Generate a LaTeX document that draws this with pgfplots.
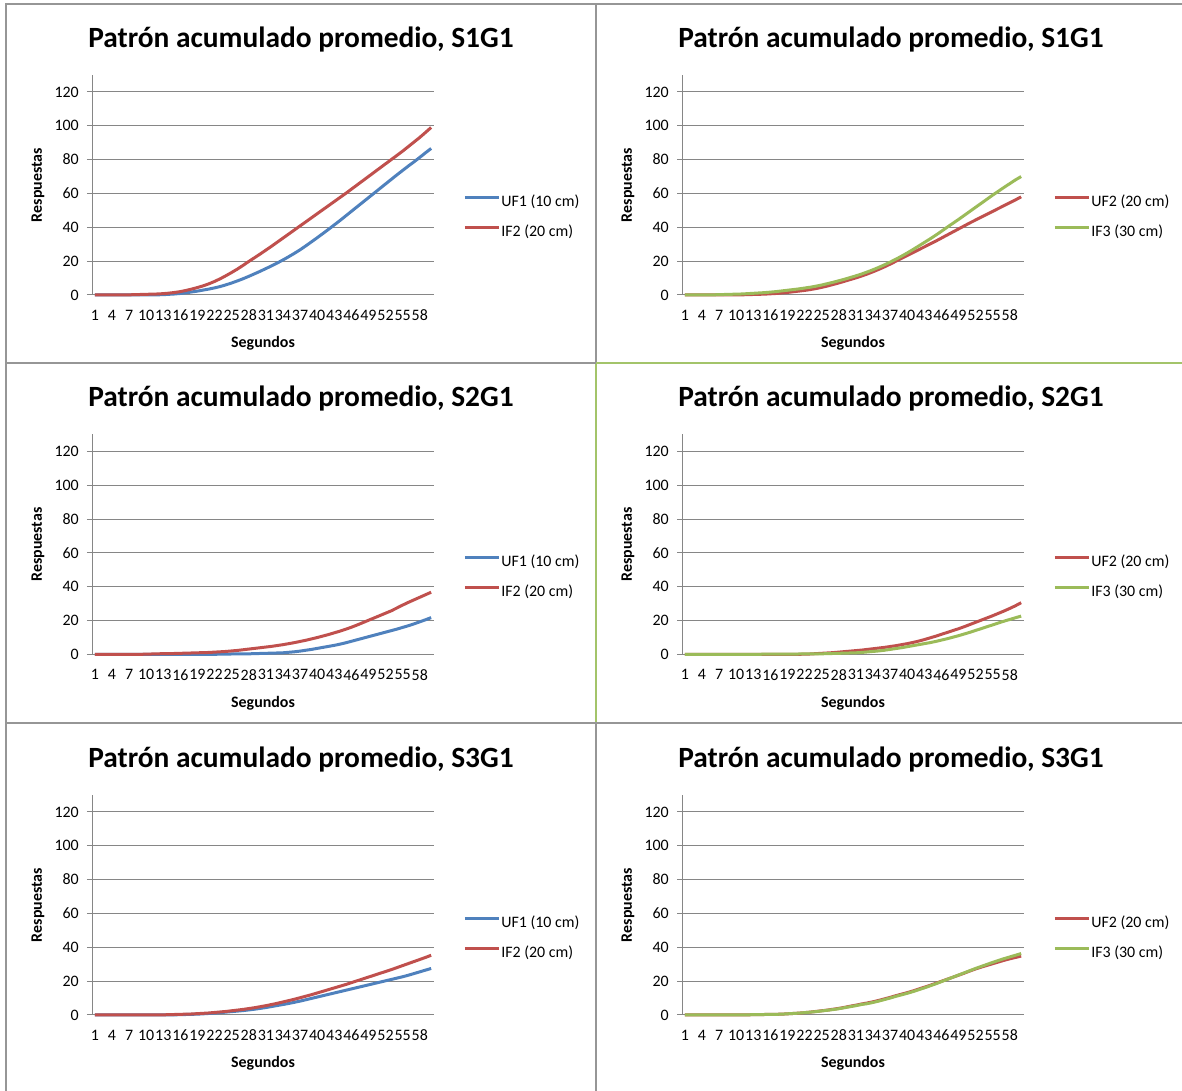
\documentclass[border=0pt]{standalone}
\usepackage{fontspec}
\setmainfont{Carlito}
\usepackage{pgfplots}
\usepackage{pgfplotstable}
\pgfplotsset{compat=1.18}
\newcommand\fs[1]{\fontsize{#1}{#1}\selectfont}
\definecolor{exblue}{HTML}{4F81BD}
\definecolor{exred}{HTML}{C0504D}
\definecolor{exgreen}{HTML}{9BBB59}
\definecolor{gridgrey}{HTML}{868686}
\definecolor{framegrey}{HTML}{969696}
\definecolor{framegreen}{HTML}{A3C46A}

\pgfplotstableread[row sep=\\]{
x a b\\
1 0 0\\ 2 0 0\\ 3 0 0\\ 4 0 0\\ 5 0 0\\ 6 0 0\\ 7 0 0.1\\ 8 0 0.2\\ 9 0 0.3\\ 10 0 0.4\\
11 0 0.5\\ 12 0.1 0.6\\ 13 0.2 0.8\\ 14 0.4 1.1\\ 15 0.6 1.5\\ 16 0.9 2\\ 17 1.3 2.7\\ 18 1.8 3.5\\ 19 2.3 4.4\\ 20 2.9 5.4\\
21 3.5 6.6\\ 22 4.2 8\\ 23 5 9.6\\ 24 6 11.4\\ 25 7.1 13.3\\ 26 8.3 15.3\\ 27 9.6 17.5\\ 28 11 19.8\\ 29 12.5 22\\ 30 14 24.2\\
31 15.6 26.5\\ 32 17.2 28.8\\ 33 18.9 31.2\\ 34 20.7 33.6\\ 35 22.6 36\\ 36 24.6 38.4\\ 37 26.7 40.8\\ 38 29 43.2\\ 39 31.4 45.6\\ 40 33.8 48\\
41 36.3 50.4\\ 42 38.8 52.8\\ 43 41.4 55.2\\ 44 44 57.6\\ 45 46.7 60\\ 46 49.4 62.5\\ 47 52.1 65\\ 48 54.8 67.5\\ 49 57.5 70\\ 50 60.2 72.5\\
51 62.9 75\\ 52 65.6 77.5\\ 53 68.3 80\\ 54 71 82.5\\ 55 73.6 85\\ 56 76.2 87.7\\ 57 78.7 90.4\\ 58 81.3 93.1\\ 59 84 96\\ 60 86.6 99\\
}\tA

\pgfplotstableread[row sep=\\]{
x a b\\
1 0 0\\ 2 0 0\\ 3 0 0\\ 4 0 0\\ 5 0 0\\ 6 0 0.1\\ 7 0 0.2\\ 8 0 0.3\\ 9 0 0.4\\ 10 0 0.5\\
11 0.1 0.6\\ 12 0.2 0.8\\ 13 0.3 1\\ 14 0.4 1.2\\ 15 0.5 1.4\\ 16 0.7 1.7\\ 17 0.9 2\\ 18 1.2 2.4\\ 19 1.5 2.8\\ 20 1.9 3.2\\
21 2.3 3.6\\ 22 2.7 4.1\\ 23 3.2 4.6\\ 24 3.8 5.2\\ 25 4.5 5.9\\ 26 5.3 6.7\\ 27 6.2 7.5\\ 28 7.1 8.4\\ 29 8.1 9.3\\ 30 9.1 10.3\\
31 10.1 11.3\\ 32 11.2 12.4\\ 33 12.4 13.6\\ 34 13.7 14.9\\ 35 15.1 16.3\\ 36 16.6 17.8\\ 37 18.2 19.4\\ 38 19.9 21.1\\ 39 21.6 22.9\\ 40 23.3 24.8\\
41 25 26.8\\ 42 26.7 28.9\\ 43 28.4 31\\ 44 30.1 33.1\\ 45 31.8 35.3\\ 46 33.6 37.6\\ 47 35.4 40\\ 48 37.2 42.3\\ 49 39 44.6\\ 50 40.8 47\\
51 42.6 49.4\\ 52 44.3 51.8\\ 53 46 54.2\\ 54 47.7 56.6\\ 55 49.4 59\\ 56 51.1 61.3\\ 57 52.8 63.6\\ 58 54.5 65.8\\ 59 56.2 68\\ 60 58 70\\
}\tB

\pgfplotstableread[row sep=\\]{
x a b\\
1 0 0\\ 2 0 0\\ 3 0 0\\ 4 0 0\\ 5 0 0\\ 6 0 0\\ 7 0 0\\ 8 0 0\\ 9 0 0.1\\ 10 0 0.2\\
11 0 0.3\\ 12 0 0.4\\ 13 0 0.5\\ 14 0 0.5\\ 15 0 0.6\\ 16 0 0.7\\ 17 0 0.8\\ 18 0 0.9\\ 19 0 1\\ 20 0 1.1\\
21 0.1 1.2\\ 22 0.1 1.4\\ 23 0.2 1.6\\ 24 0.2 1.8\\ 25 0.3 2.1\\ 26 0.3 2.4\\ 27 0.4 2.8\\ 28 0.4 3.2\\ 29 0.5 3.6\\ 30 0.6 4\\
31 0.7 4.4\\ 32 0.8 4.8\\ 33 0.9 5.3\\ 34 1 5.8\\ 35 1.3 6.4\\ 36 1.6 7\\ 37 2 7.7\\ 38 2.5 8.4\\ 39 3 9.2\\ 40 3.6 10\\
41 4.2 10.9\\ 42 4.8 11.8\\ 43 5.4 12.8\\ 44 6.1 13.8\\ 45 6.9 14.9\\ 46 7.8 16.1\\ 47 8.7 17.4\\ 48 9.6 18.8\\ 49 10.5 20.2\\ 50 11.4 21.6\\
51 12.3 23\\ 52 13.2 24.4\\ 53 14.1 25.8\\ 54 15 27.5\\ 55 16 29.2\\ 56 17 30.8\\ 57 18.1 32.3\\ 58 19.3 33.8\\ 59 20.5 35.3\\ 60 21.8 36.8\\
}\tC

\pgfplotstableread[row sep=\\]{
x a b\\
1 0 0\\ 2 0 0\\ 3 0 0\\ 4 0 0\\ 5 0 0\\ 6 0 0\\ 7 0 0\\ 8 0 0\\ 9 0 0.1\\ 10 0 0.1\\
11 0 0.1\\ 12 0 0.1\\ 13 0 0.1\\ 14 0 0.1\\ 15 0 0.2\\ 16 0 0.2\\ 17 0 0.2\\ 18 0 0.2\\ 19 0 0.2\\ 20 0 0.2\\
21 0.1 0.3\\ 22 0.2 0.3\\ 23 0.3 0.3\\ 24 0.5 0.4\\ 25 0.7 0.4\\ 26 0.9 0.5\\ 27 1.1 0.6\\ 28 1.4 0.7\\ 29 1.7 0.8\\ 30 2 0.9\\
31 2.3 1\\ 32 2.6 1.2\\ 33 3 1.5\\ 34 3.4 1.8\\ 35 3.8 2.1\\ 36 4.2 2.5\\ 37 4.7 3\\ 38 5.2 3.5\\ 39 5.8 4\\ 40 6.4 4.6\\
41 7.1 5.2\\ 42 7.9 5.8\\ 43 8.8 6.4\\ 44 9.8 7\\ 45 10.8 7.7\\ 46 11.9 8.5\\ 47 13 9.3\\ 48 14.1 10.2\\ 49 15.2 11.1\\ 50 16.4 12.1\\
51 17.7 13.1\\ 52 19 14.2\\ 53 20.3 15.3\\ 54 21.6 16.4\\ 55 22.9 17.5\\ 56 24.3 18.6\\ 57 25.7 19.7\\ 58 27.2 20.7\\ 59 28.8 21.7\\ 60 30.6 22.7\\
}\tD

\pgfplotstableread[row sep=\\]{
x a b\\
1 0 0\\ 2 0 0\\ 3 0 0\\ 4 0 0\\ 5 0 0\\ 6 0 0\\ 7 0 0\\ 8 0 0\\ 9 0 0\\ 10 0 0\\
11 0 0\\ 12 0 0\\ 13 0 0.1\\ 14 0 0.2\\ 15 0.1 0.3\\ 16 0.2 0.4\\ 17 0.3 0.5\\ 18 0.4 0.6\\ 19 0.5 0.8\\ 20 0.7 1\\
21 0.9 1.2\\ 22 1.1 1.5\\ 23 1.4 1.8\\ 24 1.7 2.1\\ 25 2 2.5\\ 26 2.3 2.9\\ 27 2.6 3.3\\ 28 3 3.8\\ 29 3.4 4.3\\ 30 3.9 4.9\\
31 4.4 5.5\\ 32 5 6.2\\ 33 5.6 6.9\\ 34 6.2 7.7\\ 35 6.8 8.5\\ 36 7.5 9.3\\ 37 8.2 10.2\\ 38 9 11.1\\ 39 9.8 12\\ 40 10.6 13\\
41 11.4 14\\ 42 12.2 15\\ 43 13 16\\ 44 13.8 17\\ 45 14.6 18\\ 46 15.4 19.1\\ 47 16.2 20.2\\ 48 17 21.3\\ 49 17.8 22.4\\ 50 18.6 23.5\\
51 19.4 24.6\\ 52 20.2 25.7\\ 53 21 26.8\\ 54 21.8 28\\ 55 22.6 29.2\\ 56 23.5 30.4\\ 57 24.5 31.6\\ 58 25.5 32.8\\ 59 26.5 34\\ 60 27.5 35.3\\
}\tE

\pgfplotstableread[row sep=\\]{
x a b\\
1 0 0\\ 2 0 0\\ 3 0 0\\ 4 0 0\\ 5 0 0\\ 6 0 0\\ 7 0 0\\ 8 0 0\\ 9 0 0\\ 10 0 0\\
11 0.1 0.1\\ 12 0.1 0.1\\ 13 0.2 0.2\\ 14 0.2 0.2\\ 15 0.3 0.3\\ 16 0.3 0.3\\ 17 0.4 0.4\\ 18 0.5 0.5\\ 19 0.7 0.7\\ 20 0.9 0.9\\
21 1.1 1.1\\ 22 1.4 1.4\\ 23 1.7 1.7\\ 24 2.1 2\\ 25 2.5 2.4\\ 26 2.9 2.8\\ 27 3.4 3.2\\ 28 3.9 3.7\\ 29 4.5 4.3\\ 30 5.2 4.9\\
31 5.8 5.5\\ 32 6.5 6.2\\ 33 7.1 6.7\\ 34 7.8 7.4\\ 35 8.6 8.2\\ 36 9.5 9.1\\ 37 10.4 10\\ 38 11.4 11\\ 39 12.3 11.9\\ 40 13.2 12.8\\
41 14.2 13.8\\ 42 15.3 14.9\\ 43 16.4 16\\ 44 17.5 17.2\\ 45 18.7 18.4\\ 46 19.9 19.7\\ 47 21.1 21\\ 48 22.3 22.3\\ 49 23.5 23.6\\ 50 24.7 24.9\\
51 26 26.2\\ 52 27.2 27.5\\ 53 28.3 28.7\\ 54 29.3 29.9\\ 55 30.3 31.1\\ 56 31.3 32.2\\ 57 32.3 33.3\\ 58 33.2 34.3\\ 59 34 35.3\\ 60 34.8 36.3\\
}\tF

\pgfplotsset{
  every axis title shift=0pt,
  panel/.style={
    width=342bp, height=220bp, scale only axis,
    xmin=0.5, xmax=60.5, ymin=0, ymax=130,
    xtick={1,4,...,58}, ytick={0,20,...,120},
    axis lines=left, axis line style={draw=gridgrey, line width=1bp, -},
    ymajorgrids, grid style={draw=gridgrey, line width=1bp},
    tick align=outside, major tick length=5bp,
    xtick style={draw=none}, ytick style={draw=gridgrey, line width=1bp},
    tick label style={font=\fs{16}},
    /pgf/number format/assume math mode=true,
    yticklabel style={xshift=-4.7bp},
    xticklabel style={yshift=-6.4bp},
    xlabel={Segundos}, ylabel={Respuestas},
    label style={font=\bfseries\fs{16}},
    xlabel style={at={(axis description cs:0.5,-0.2409)}, anchor=base},
    ylabel style={at={(axis description cs:-0.158,0.5)}, anchor=center},
    title style={at={(axis description cs:0.611,1.127)}, anchor=base, font=\bfseries\fs{29.5}},
    legend style={draw=none, fill=none, at={(1.085,0.3545)}, anchor=west,
      inner sep=0pt, row sep=0pt, column sep=0pt, font=\fs{16},
      nodes={inner xsep=1bp, inner ysep=0pt, text height=20bp, text depth=10bp}},
    legend cell align=left,
    legend image code/.code={\draw[##1, line width=3bp] (0bp,4bp) -- (34bp,4bp);},
    every axis plot/.append style={line width=3bp, no marks, line join=round},
    clip=false,
  }
}

\begin{document}
\begin{tikzpicture}
\path[use as bounding box] (0bp,0bp) rectangle (1182bp,1091bp);
% frames
\draw[framegrey, line width=2bp] (6bp,0bp) -- (6bp,1087bp) -- (1182bp,1087bp);
\draw[framegrey, line width=2bp] (596bp,1087bp) -- (596bp,728bp);
\draw[framegreen, line width=2bp] (596bp,728bp) -- (596bp,368bp);
\draw[framegrey, line width=2bp] (596bp,368bp) -- (596bp,0bp);
\draw[framegrey, line width=2bp] (6bp,728bp) -- (596bp,728bp);
\draw[framegreen, line width=2bp] (596bp,728bp) -- (1182bp,728bp);
\draw[framegrey, line width=2bp] (6bp,368bp) -- (1182bp,368bp);

\begin{axis}[panel, at={(92bp,796bp)}, anchor=south west, title={Patrón acumulado promedio, S1G1}]
\addplot[exblue] table[x=x, y=a]{\tA};
\addplot[exred] table[x=x, y=b]{\tA};
\legend{UF1 (10 cm), IF2 (20 cm)}
\end{axis}

\begin{axis}[panel, at={(682bp,796bp)}, anchor=south west, title={Patrón acumulado promedio, S1G1}]
\addplot[exred] table[x=x, y=a]{\tB};
\addplot[exgreen] table[x=x, y=b]{\tB};
\legend{UF2 (20 cm), IF3 (30 cm)}
\end{axis}

\begin{axis}[panel, at={(92bp,436.5bp)}, anchor=south west, title={Patrón acumulado promedio, S2G1}]
\addplot[exblue] table[x=x, y=a]{\tC};
\addplot[exred] table[x=x, y=b]{\tC};
\legend{UF1 (10 cm), IF2 (20 cm)}
\end{axis}

\begin{axis}[panel, at={(682bp,436.5bp)}, anchor=south west, title={Patrón acumulado promedio, S2G1}]
\addplot[exred] table[x=x, y=a]{\tD};
\addplot[exgreen] table[x=x, y=b]{\tD};
\legend{UF2 (20 cm), IF3 (30 cm)}
\end{axis}

\begin{axis}[panel, at={(92bp,76bp)}, anchor=south west, title={Patrón acumulado promedio, S3G1}]
\addplot[exblue] table[x=x, y=a]{\tE};
\addplot[exred] table[x=x, y=b]{\tE};
\legend{UF1 (10 cm), IF2 (20 cm)}
\end{axis}

\begin{axis}[panel, at={(682bp,76bp)}, anchor=south west, title={Patrón acumulado promedio, S3G1}]
\addplot[exred] table[x=x, y=a]{\tF};
\addplot[exgreen] table[x=x, y=b]{\tF};
\legend{UF2 (20 cm), IF3 (30 cm)}
\end{axis}
\end{tikzpicture}
\end{document}
